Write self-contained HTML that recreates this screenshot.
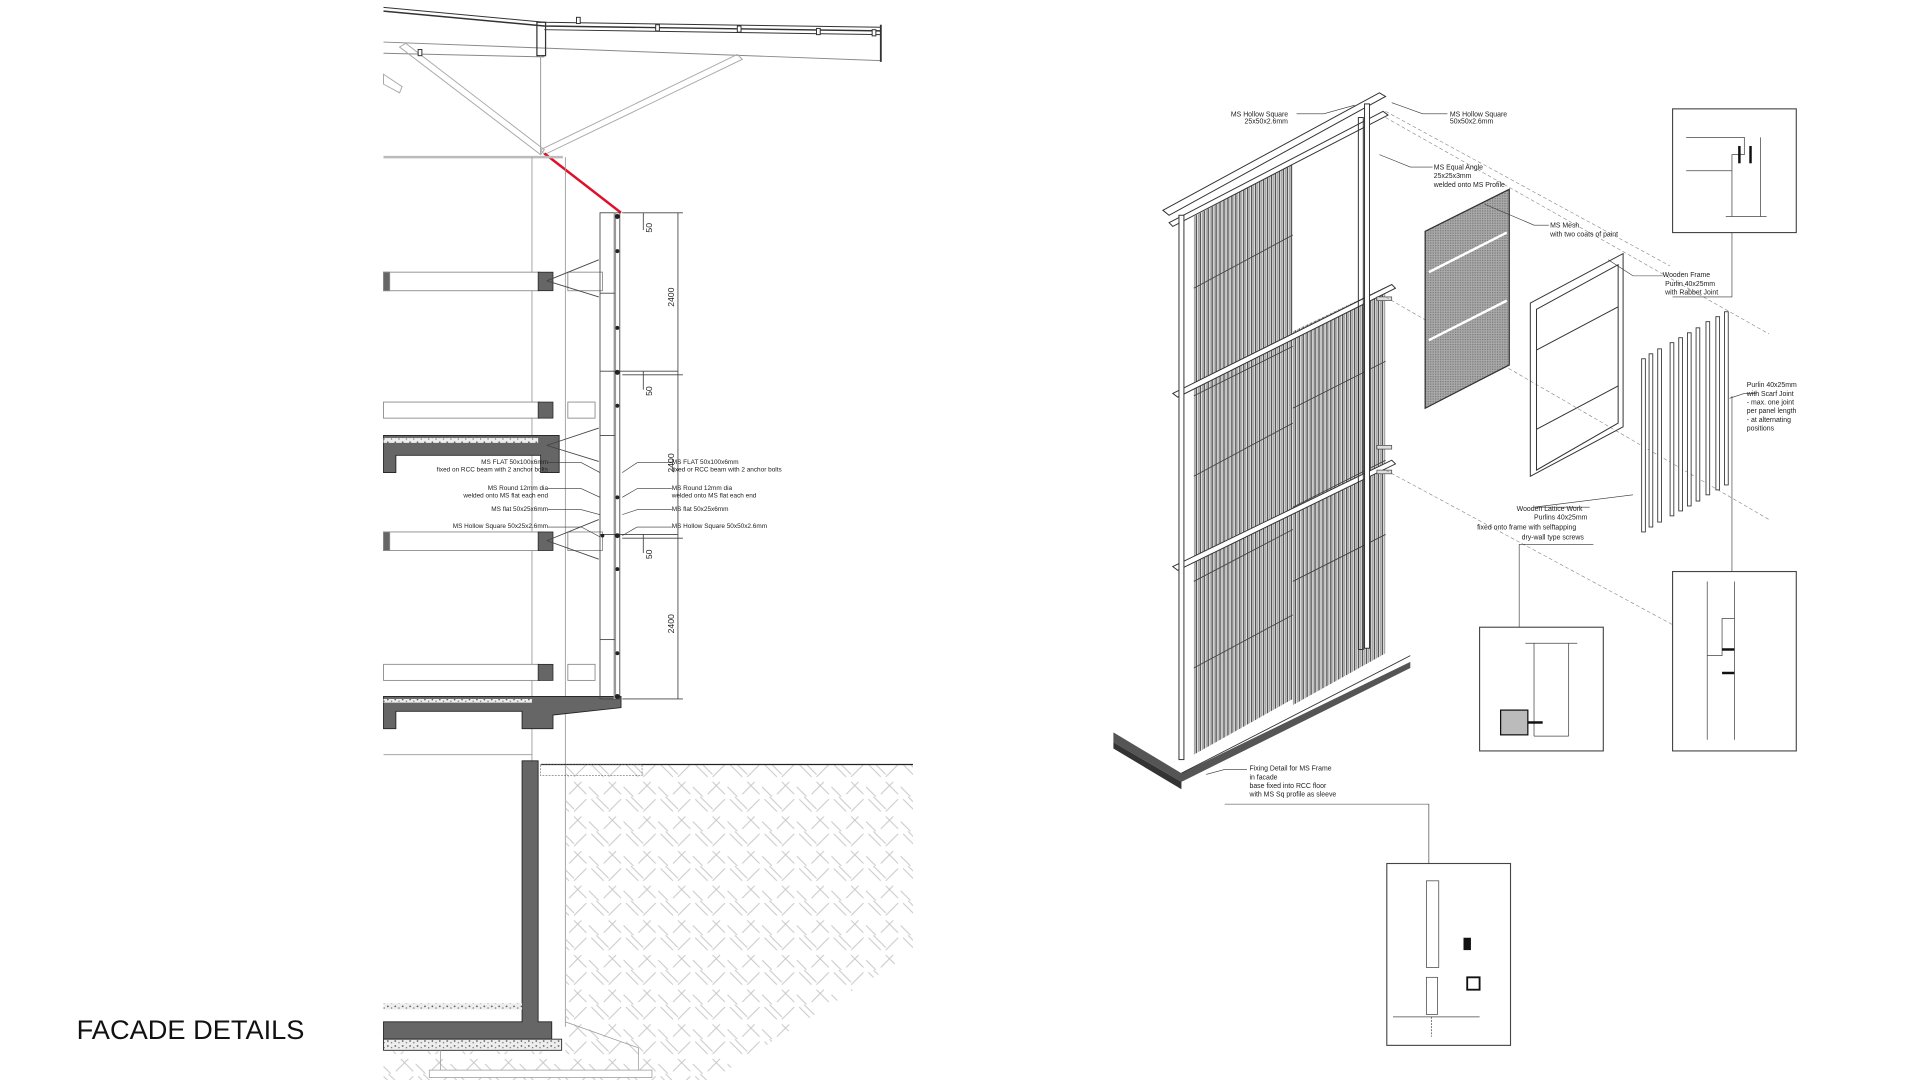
<!DOCTYPE html>
<html><head><meta charset="utf-8"><style>
html,body{margin:0;padding:0;background:#fff;width:1920px;height:1080px;overflow:hidden}
svg{display:block}
text{font-family:"Liberation Sans",sans-serif;fill:#222}
</style></head><body>
<svg width="1920" height="1080" viewBox="0 0 1552 873" preserveAspectRatio="none" xmlns="http://www.w3.org/2000/svg">
<defs>
<pattern id="herr" width="28" height="28" patternUnits="userSpaceOnUse">
<g stroke="#c8c8c8" stroke-width="0.8">
<line x1="2" y1="2" x2="12" y2="12"/><line x1="6" y1="0" x2="16" y2="10"/>
<line x1="26" y1="2" x2="16" y2="12"/><line x1="22" y1="16" x2="12" y2="26"/>
<line x1="16" y1="16" x2="26" y2="26"/><line x1="0" y1="20" x2="8" y2="28"/>
</g></pattern>
<pattern id="slat" width="3.2" height="10" patternUnits="userSpaceOnUse">
<rect width="3.2" height="10" fill="#e8e8e8"/><line x1="0.6" y1="0" x2="0.6" y2="10" stroke="#333" stroke-width="0.9"/><line x1="2.2" y1="0" x2="2.2" y2="10" stroke="#777" stroke-width="0.5"/>
</pattern>
<pattern id="mesh" width="2" height="2" patternUnits="userSpaceOnUse">
<rect width="2" height="2" fill="#aaa"/><rect width="1" height="1" fill="#777"/>
</pattern>
<pattern id="grav" width="6" height="4" patternUnits="userSpaceOnUse">
<rect width="6" height="4" fill="#eee"/><circle cx="1.5" cy="1.5" r="0.7" fill="#555"/><circle cx="4.5" cy="2.8" r="0.6" fill="#777"/>
</pattern>
</defs>

<!-- ===== LEFT SECTION ===== -->
<g fill="none" stroke="#333" stroke-width="0.8">
<!-- roof -->
<polyline points="310,6 440,18 712,22"/>
<polyline points="310,9 440,21 712,25" stroke-width="1.2"/>
<line x1="440" y1="24" x2="712" y2="28"/>
<line x1="310" y1="34" x2="712" y2="49" stroke="#888"/>
<line x1="310" y1="43" x2="440" y2="46" stroke="#888"/>
<rect x="434" y="18" width="7" height="27" stroke-width="1"/>
<line x1="712" y1="20" x2="712" y2="50" stroke-width="1.5"/>
<line x1="437" y1="45" x2="437" y2="125" stroke="#999"/>
<polygon points="323,38 328,35 440,121 437,125" stroke="#aaa"/>
<polygon points="437,121 596,44 600,48 440,125" stroke="#aaa"/>
<polygon points="310,60 325,70 323,75 310,68" stroke="#aaa"/>
<g fill="#fff"><rect x="466" y="14" width="3" height="5"/><rect x="530" y="20" width="3" height="5"/><rect x="596" y="21" width="3" height="5"/><rect x="660" y="23" width="3" height="5"/><rect x="705" y="24" width="3" height="5"/><rect x="338" y="40" width="3" height="5"/></g>
</g>
<!-- red strut -->
<line x1="440" y1="124" x2="502" y2="172" stroke="#e0102a" stroke-width="2"/>
<!-- walls -->
<g stroke="#999" stroke-width="0.7" fill="none">
<line x1="310" y1="127" x2="455" y2="127" stroke="#bbb" stroke-width="2"/>
<line x1="430" y1="127" x2="430" y2="615"/>
<line x1="457" y1="127" x2="457" y2="830"/>
<line x1="310" y1="610" x2="430" y2="610"/>
</g>
<!-- beams / columns -->
<g stroke="#888" stroke-width="0.7" fill="#fff">
<rect x="310" y="220" width="126" height="15"/><rect x="310" y="220" width="5" height="15" fill="#666"/>
<rect x="310" y="325" width="126" height="13"/>
<rect x="310" y="430" width="126" height="15"/><rect x="310" y="430" width="5" height="15" fill="#666"/>
<rect x="310" y="537" width="126" height="13"/>
<rect x="459" y="220" width="28" height="15"/><rect x="459" y="325" width="22" height="13"/>
<rect x="459" y="430" width="28" height="15"/><rect x="459" y="537" width="22" height="13"/>
</g>
<g fill="#666" stroke="#222" stroke-width="0.6">
<rect x="435" y="220" width="12" height="15"/><rect x="435" y="325" width="12" height="13"/>
<rect x="435" y="430" width="12" height="15"/><rect x="435" y="537" width="12" height="13"/>
</g>
<!-- slab 1 -->
<path d="M310,352 H452 V382 H437 V368 H320 V382 H310 Z" fill="#666" stroke="#222" stroke-width="0.7"/>
<rect x="310" y="354" width="125" height="4" fill="url(#grav)"/>
<!-- slab 2 -->
<path d="M310,563 H502 V572 L447,578 V589 H422 V575 H320 V589 H310 Z" fill="#666" stroke="#222" stroke-width="0.7"/>
<rect x="310" y="565" width="120" height="3" fill="url(#grav)"/>
<!-- facade frame -->
<g stroke="#444" stroke-width="0.7" fill="none">
<rect x="485" y="172" width="16" height="393"/>
<line x1="497" y1="172" x2="497" y2="565" stroke="#999" stroke-width="2"/>
<line x1="485" y1="300" x2="548" y2="300"/><line x1="485" y1="432" x2="548" y2="432"/>
<line x1="485" y1="237" x2="497" y2="237"/><line x1="485" y1="352" x2="497" y2="352"/><line x1="485" y1="517" x2="497" y2="517"/>
<line x1="442" y1="227" x2="484" y2="210"/><line x1="442" y1="227" x2="484" y2="240"/>
<line x1="442" y1="437" x2="484" y2="420"/><line x1="442" y1="437" x2="484" y2="452"/>
<line x1="442" y1="360" x2="484" y2="346"/><line x1="442" y1="360" x2="484" y2="373"/>
<!-- dims -->
<line x1="548" y1="172" x2="548" y2="565"/>
<line x1="503" y1="172" x2="552" y2="172"/><line x1="503" y1="565" x2="552" y2="565"/>
<line x1="503" y1="303" x2="552" y2="303"/><line x1="503" y1="435" x2="552" y2="435"/>
<line x1="520" y1="172" x2="520" y2="186"/><line x1="520" y1="300" x2="520" y2="315"/><line x1="520" y1="432" x2="520" y2="447"/>
</g>
<g fill="#222"><circle cx="499" cy="175" r="2"/><circle cx="499" cy="203" r="1.6"/><circle cx="499" cy="265" r="1.6"/><circle cx="499" cy="301" r="2"/><circle cx="499" cy="328" r="1.6"/><circle cx="499" cy="402" r="1.6"/><circle cx="499" cy="433" r="2"/><circle cx="499" cy="460" r="1.6"/><circle cx="499" cy="528" r="1.6"/><circle cx="499" cy="563" r="2"/><circle cx="487" cy="433" r="1.5"/></g>
<g font-size="7">
<text transform="translate(527,188) rotate(-90)">50</text>
<text transform="translate(545,248) rotate(-90)">2400</text>
<text transform="translate(527,320) rotate(-90)">50</text>
<text transform="translate(545,382) rotate(-90)">2400</text>
<text transform="translate(527,452) rotate(-90)">50</text>
<text transform="translate(545,512) rotate(-90)">2400</text>
</g>
<g font-size="5.2">
<text x="443" y="375" text-anchor="end">MS FLAT 50x100x6mm</text>
<text x="443" y="381" text-anchor="end">fixed on RCC beam with 2 anchor bolts</text>
<text x="443" y="396" text-anchor="end">MS Round 12mm dia</text>
<text x="443" y="402" text-anchor="end">welded onto MS flat each end</text>
<text x="443" y="413" text-anchor="end">MS flat 50x25x6mm</text>
<text x="443" y="427" text-anchor="end">MS Hollow Square 50x25x2.6mm</text>
<text x="543" y="375">MS FLAT 50x100x6mm</text>
<text x="543" y="381">fixed or RCC beam with 2 anchor bolts</text>
<text x="543" y="396">MS Round 12mm dia</text>
<text x="543" y="402">welded onto MS flat each end</text>
<text x="543" y="413">MS flat 50x25x6mm</text>
<text x="543" y="427">MS Hollow Square 50x50x2.6mm</text>
</g>
<g stroke="#333" stroke-width="0.5" fill="none">
<polyline points="443,374 470,374 485,382"/><polyline points="443,395 470,395 485,402"/><polyline points="443,412 470,412 485,416"/><polyline points="443,426 470,426 485,434"/>
<polyline points="543,374 515,374 503,382"/><polyline points="543,395 515,395 503,402"/><polyline points="543,412 515,412 503,416"/><polyline points="543,426 515,426 503,433"/>
</g>
<!-- ground -->
<polygon points="457,618 738,618 738,770 575,873 457,873" fill="url(#herr)"/>
<polygon points="310,850 457,850 457,873 310,873" fill="url(#herr)"/>
<line x1="437" y1="618" x2="738" y2="618" stroke="#222" stroke-width="1"/>
<rect x="437" y="618" width="82" height="9" fill="none" stroke="#666" stroke-width="0.5" stroke-dasharray="1.5,1"/>
<path d="M422,615 H435 V826 H446 V840 H310 V826 H422 Z" fill="#666" stroke="#222" stroke-width="0.7"/>
<rect x="310" y="811" width="112" height="5" fill="url(#grav)"/>
<rect x="310" y="840" width="144" height="9" fill="url(#grav)" stroke="#222" stroke-width="0.7"/>
<g fill="#fff" stroke="#999" stroke-width="0.6">
<polyline points="457,826 516,847 516,866 356,866 356,849" fill="none"/>
<rect x="347" y="865" width="180" height="6"/>
</g>
<text x="62" y="840" font-size="22" fill="#111" style="fill:#111">FACADE DETAILS</text>

<!-- ===== RIGHT ISOMETRIC ===== -->
<!-- base slab -->
<polygon points="900,592 955,625 1140,535 1140,540 955,632 900,600" fill="#555"/>
<polygon points="900,600 955,632 955,638 900,605" fill="#333"/>
<line x1="955" y1="625" x2="1140" y2="530" stroke="#333" stroke-width="0.7"/>
<!-- lattice panels -->
<polygon points="965,175 1045,132 1045,565 965,610" fill="url(#slat)"/>
<polygon points="1045,268 1120,232 1120,528 1045,570" fill="url(#slat)"/>
<g stroke="#444" stroke-width="0.7" fill="none">
<line x1="965" y1="233" x2="1045" y2="190"/><line x1="965" y1="320" x2="1045" y2="280"/><line x1="965" y1="385" x2="1045" y2="342"/><line x1="965" y1="470" x2="1045" y2="428"/><line x1="965" y1="540" x2="1045" y2="497"/>
<line x1="1045" y1="330" x2="1120" y2="292"/><line x1="1045" y1="410" x2="1120" y2="372"/><line x1="1045" y1="470" x2="1120" y2="432"/>
</g>
<!-- frame rails -->
<g stroke="#333" stroke-width="0.8" fill="#fff">
<polygon points="940,170 1115,75 1120,78 945,174"/>
<polygon points="945,180 1118,90 1122,93 948,183"/>
<polygon points="948,318 1125,230 1128,233 952,321"/>
<polygon points="948,458 1125,372 1128,375 952,461"/>
<rect x="953" y="174" width="4" height="440"/>
<rect x="1103" y="84" width="4" height="440"/>
<rect x="1098" y="95" width="4" height="430" fill="none"/>
</g>
<g fill="#ddd" stroke="#333" stroke-width="0.5">
<rect x="1113" y="240" width="12" height="3"/><rect x="1113" y="380" width="12" height="3"/><rect x="1113" y="360" width="12" height="3"/>
</g>
<!-- dashed projection lines -->
<g stroke="#888" stroke-width="0.5" stroke-dasharray="3,2" fill="none">
<line x1="1120" y1="95" x2="1430" y2="270"/><line x1="1120" y1="240" x2="1430" y2="420"/>
<line x1="1120" y1="380" x2="1380" y2="520"/><line x1="1120" y1="90" x2="1350" y2="215"/>
</g>
<!-- mesh panel -->
<polygon points="1152,187 1220,153 1220,295 1152,330" fill="url(#mesh)" stroke="#333" stroke-width="1"/>
<g stroke="#fff" stroke-width="2"><line x1="1155" y1="220" x2="1218" y2="188"/><line x1="1155" y1="275" x2="1218" y2="243"/></g>
<!-- wooden frame -->
<g fill="none" stroke="#333" stroke-width="0.8">
<polygon points="1237,245 1312,205 1312,345 1237,385"/>
<polygon points="1242,250 1308,214 1308,342 1242,380"/>
<line x1="1242" y1="283" x2="1308" y2="248"/><line x1="1242" y1="347" x2="1308" y2="312"/>
</g>
<!-- slats -->
<g fill="#fff" stroke="#333" stroke-width="0.7">
<rect x="1327" y="290" width="3" height="140"/><rect x="1333" y="286" width="3" height="140"/><rect x="1340" y="282" width="3" height="140"/>
<rect x="1350" y="277" width="3" height="140"/><rect x="1357" y="273" width="3" height="140"/><rect x="1364" y="269" width="3" height="140"/>
<rect x="1371" y="265" width="3" height="140"/><rect x="1379" y="260" width="3" height="140"/><rect x="1387" y="256" width="3" height="140"/><rect x="1394" y="252" width="3" height="140"/>
</g>
<!-- detail boxes -->
<g fill="#fff" stroke="#444" stroke-width="0.9">
<rect x="1352" y="88" width="100" height="100"/>
<rect x="1352" y="462" width="100" height="145"/>
<rect x="1196" y="507" width="100" height="100"/>
<rect x="1121" y="698" width="100" height="147"/>
</g>
<g fill="none" stroke="#444" stroke-width="0.6">
<polyline points="1363,111 1410,111 1410,125 1400,125 1400,175"/><line x1="1423" y1="111" x2="1423" y2="175"/><line x1="1363" y1="138" x2="1400" y2="138"/><line x1="1395" y1="175" x2="1428" y2="175"/>
<line x1="1380" y1="470" x2="1380" y2="598"/><line x1="1402" y1="470" x2="1402" y2="598"/><polyline points="1380,530 1392,530 1392,500 1402,500"/>
<line x1="1240" y1="520" x2="1240" y2="595"/><polyline points="1233,520 1275,520"/><line x1="1268" y1="520" x2="1268" y2="595"/><line x1="1240" y1="595" x2="1268" y2="595"/>
<rect x="1153" y="712" width="10" height="70"/><rect x="1153" y="790" width="9" height="30"/><line x1="1126" y1="822" x2="1196" y2="822"/>
<line x1="1157" y1="822" x2="1157" y2="838" stroke-dasharray="1.5,1"/>
</g>
<rect x="1213" y="574" width="22" height="20" fill="#bbb" stroke="#111" stroke-width="1"/>
<g fill="#111"><rect x="1405" y="118" width="2" height="14"/><rect x="1414" y="118" width="2" height="14"/><rect x="1392" y="524" width="10" height="2"/><rect x="1392" y="543" width="10" height="2"/><rect x="1235" y="583" width="12" height="2"/><rect x="1183" y="758" width="6" height="10"/><rect x="1186" y="790" width="10" height="10" fill="none" stroke="#111" stroke-width="1.5"/></g>
<!-- leaders -->
<g fill="none" stroke="#333" stroke-width="0.5">
<polyline points="1048,92 1070,92 1095,85"/><polyline points="1170,92 1150,92 1125,83"/>
<polyline points="1158,135 1140,135 1115,125"/><polyline points="1252,182 1240,182 1200,165"/>
<polyline points="1344,223 1320,223 1300,210"/><polyline points="1352,240 1400,240 1400,188"/>
<polyline points="1398,322 1410,318 1420,318"/><polyline points="1400,320 1400,462"/>
<polyline points="1285,410 1260,410 1240,410 1320,400"/><polyline points="1228,440 1288,440"/><line x1="1228" y1="440" x2="1228" y2="507"/>
<polyline points="1008,622 990,622 975,626"/><polyline points="990,650 1155,650 1155,698"/>
</g>
<g font-size="5.6">
<text x="995" y="94">MS Hollow Square</text><text x="1006" y="100">25x50x2.6mm</text>
<text x="1172" y="94">MS Hollow Square</text><text x="1172" y="100">50x50x2.6mm</text>
<text x="1159" y="137">MS Equal Angle</text><text x="1159" y="144">25x25x3mm</text><text x="1159" y="151">welded onto MS Profile</text>
<text x="1253" y="184">MS Mesh</text><text x="1253" y="191">with two coats of paint</text>
<text x="1344" y="224">Wooden Frame</text><text x="1346" y="231">Purlin 40x25mm</text><text x="1346" y="238">with Rabbet Joint</text>
<text x="1412" y="313">Purlin 40x25mm</text><text x="1412" y="320">with Scarf Joint</text><text x="1412" y="327">- max. one joint</text><text x="1412" y="334">per panel length</text><text x="1412" y="341">- at alternating</text><text x="1412" y="348">positions</text>
<text x="1226" y="413">Wooden Lattice Work</text><text x="1240" y="420">Purlins 40x25mm</text><text x="1194" y="428">fixed onto frame with selftapping</text><text x="1230" y="436">dry-wall type screws</text>
<text x="1010" y="623">Fixing Detail for MS Frame</text><text x="1010" y="630">in facade</text><text x="1010" y="637">base fixed into RCC floor</text><text x="1010" y="644">with MS Sq profile as sleeve</text>
</g>
</svg>
</body></html>
